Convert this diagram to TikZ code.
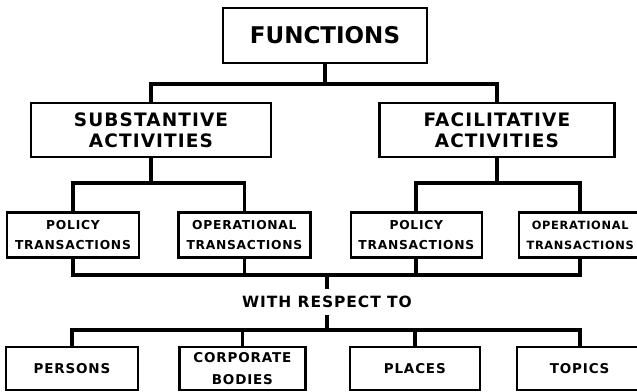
\documentclass[tikz,border=0pt]{standalone}
\usepackage{fontspec}
\usepackage{tikz}
\usetikzlibrary{positioning}
\newfontfamily\headfont{DejaVu Sans}
\newfontfamily\chartfont[LetterSpace=6]{DejaVu Sans}

\begin{document}
\begin{tikzpicture}[
    x=1pt, y=1pt,
    box/.style={
        rectangle,
        draw=black,
        line width=2.4pt,
        fill=white,
        align=center,
        inner sep=0pt
    },
    topbox/.style={box, minimum width=204pt, minimum height=55pt,
        font=\headfont\bfseries\fontsize{23}{27}\selectfont},
    actbox/.style={box, minimum width=#1, minimum height=54pt,
        font=\chartfont\bfseries\fontsize{18.5}{21}\selectfont},
    transbox/.style={box, minimum width=#1, minimum height=45pt,
        font=\chartfont\bfseries\fontsize{12.3}{20}\selectfont},
    subjbox/.style={box, minimum width=#1, minimum height=43pt,
        font=\chartfont\bfseries\fontsize{13.5}{22}\selectfont},
    link/.style={line width=3.8pt, black}
]
    \useasboundingbox (0,0) rectangle (637,-391);

    % Boxes
    \node[topbox] (functions) at (325,-35.5) {FUNCTIONS};
    \node[actbox=240pt] (substantive) at (151,-130) {SUBSTANTIVE\\ACTIVITIES};
    \node[actbox=235pt, right=106pt of substantive] (facilitative) {FACILITATIVE\\ACTIVITIES};

    \node[transbox=132pt] (policyS) at (73,-235) {POLICY\\TRANSACTIONS};
    \node[transbox=132pt, right=37pt of policyS] (operationalS) {OPERATIONAL\\TRANSACTIONS};
    \node[transbox=131pt, right=38pt of operationalS] (policyF) {POLICY\\TRANSACTIONS};
    \node[transbox=122pt, right=35pt of policyF,
        font=\chartfont\bfseries\fontsize{11.4}{20}\selectfont] (operationalF) {OPERATIONAL\\TRANSACTIONS};

    \node[font=\chartfont\bfseries\fontsize{15.5}{18}\selectfont, inner ysep=7pt] (respect)
        at (327,-302) {WITH RESPECT TO};

    \node[subjbox=132pt] (persons) at (72,-368.5) {PERSONS};
    \node[subjbox=126pt, right=39pt of persons] (corporate) {CORPORATE\\BODIES};
    \node[subjbox=130pt, right=42pt of corporate] (places) {PLACES};
    \node[subjbox=125pt, right=35pt of places] (topics) {TOPICS};

    % Connectors
    \draw[link] (functions.south) -- ++(0,-20) coordinate (topbar);
    \draw[link] (substantive.north) |- (topbar) -| (facilitative.north);

    \draw[link] (substantive.south) -- ++(0,-25) coordinate (subbar);
    \draw[link] (policyS.north) |- (subbar) -| (operationalS.north);
    \draw[link] (facilitative.south) -- ++(0,-25) coordinate (facbar);
    \draw[link] (policyF.north) |- (facbar) -| (operationalF.north);

    \draw[link] (policyS.south) -- ++(0,-16) coordinate (lowbar) -| (operationalF.south);
    \draw[link] (operationalS.south) -- (operationalS.south |- lowbar);
    \draw[link] (policyF.south) -- (policyF.south |- lowbar);
    \draw[link] (respect.north) -- (respect.north |- lowbar);

    \draw[link] (respect.south) -- ++(0,-15) coordinate (subjbar);
    \draw[link] (persons.north) |- (subjbar) -| (topics.north);
    \draw[link] (corporate.north) -- (corporate.north |- subjbar);
    \draw[link] (places.north) -- (places.north |- subjbar);

\end{tikzpicture}
\end{document}
